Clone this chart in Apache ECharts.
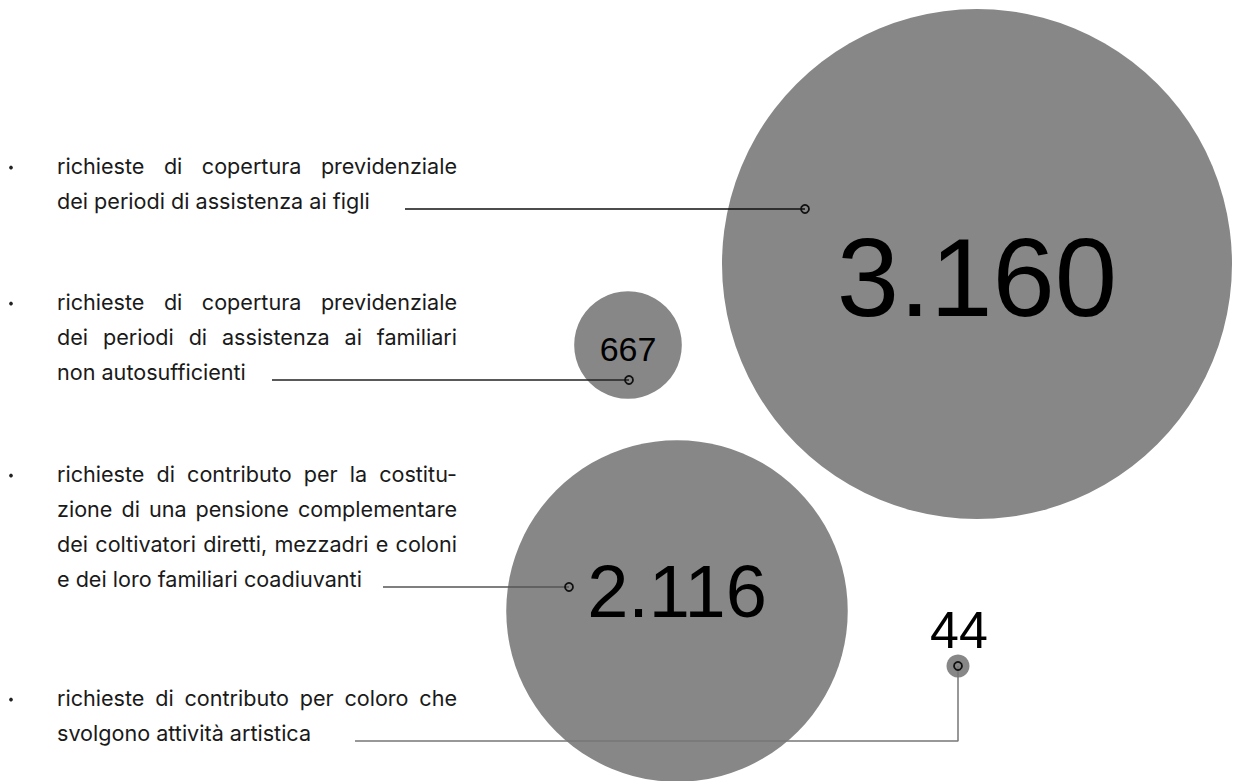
<!DOCTYPE html>
<html><head><meta charset="utf-8">
<script src="https://cdn.jsdelivr.net/npm/echarts@6/dist/echarts.min.js"></script>
<style>html,body{margin:0;padding:0;background:#fff}#c{width:1233px;height:781px}</style>
</head><body><div id="c"></div>
<script>
// ---- data ----
const categories = [
  'richieste di copertura previdenziale dei periodi di assistenza ai figli',
  'richieste di copertura previdenziale dei periodi di assistenza ai familiari non autosufficienti',
  'richieste di contributo per la costituzione di una pensione complementare dei coltivatori diretti, mezzadri e coloni e dei loro familiari coadiuvanti',
  'richieste di contributo per coloro che svolgono attività artistica'
];
const categoryLines = [
  ['richieste di copertura previdenziale', 'dei periodi di assistenza ai figli'],
  ['richieste di copertura previdenziale', 'dei periodi di assistenza ai familiari', 'non autosufficienti'],
  ['richieste di contributo per la costitu-', 'zione di una pensione complementare', 'dei coltivatori diretti, mezzadri e coloni', 'e dei loro familiari coadiuvanti'],
  ['richieste di contributo per coloro che', 'svolgono attività artistica']
];
const values = [3160, 667, 2116, 44];
const valueLabels = ['3.160', '667', '2.116', '44'];

// ---- layout (positions / sizes / styles) ----
const bubbleCenters = [[977, 264], [628, 345], [677, 611], [958, 666]];
const labelOffsets = [[0, 13], [0, 4], [0, -20], [1, -36]];
const labelFontSizes = [112, 34, 74, 52];
const anchorPoints = [[805, 209], [629, 380], [569, 587], [958, 666]];
const leaderPaths = [
  [[405, 209], [805, 209]],
  [[272, 380], [629, 380]],
  [[383, 587], [569, 587]],
  [[355, 741], [958, 741], [958, 666]]
];
const leaderColors = ['#111', '#222', '#555', '#777'];
const textBaselines = [[174, 209], [310, 345, 380], [482, 517, 552, 587], [706, 741]];
const TEXT_LEFT = 57, TEXT_RIGHT = 457, BULLET_X = 9;
const PX_PER_UNIT = 510 / 3160, MIN_D = 23;
const BUBBLE_COLOR = '#878787';
const FONT_FAMILY = 'Inter';

// measure helper using a temporary SVG text element
const NS = 'http://www.w3.org/2000/svg';
const msvg = document.createElementNS(NS, 'svg');
msvg.setAttribute('width', '10'); msvg.setAttribute('height', '10');
msvg.style.position = 'absolute'; msvg.style.left = '0'; msvg.style.top = '0'; msvg.style.visibility = 'hidden';
const mt = document.createElementNS(NS, 'text');
mt.setAttribute('x', '0'); mt.setAttribute('y', '5');
msvg.appendChild(mt);
document.body.appendChild(msvg);
function measure(t, fs) {
  mt.setAttribute('font-family', FONT_FAMILY);
  mt.setAttribute('font-size', fs);
  mt.textContent = t;
  return mt.getComputedTextLength();
}
let FS = 18 * 336 / measure('dei periodi di assistenza ai figli', 18);
categoryLines.forEach(lines => lines.forEach(line => {
  const m = measure(line, 18);
  if (m > 0) FS = Math.min(FS, 0.985 * 18 * (TEXT_RIGHT - TEXT_LEFT) / m);
}));
if (!isFinite(FS)) FS = 21;
FS = Math.max(15, Math.min(26, FS));

const graphics = [];
categoryLines.forEach((lines, bi) => {
  const bls = textBaselines[bi];
  graphics.push({
    type: 'circle', z: 100, shape: { cx: BULLET_X + 2, cy: bls[0] - 0.3 * FS, r: 1.9 },
    style: { fill: '#222' }
  });
  lines.forEach((line, li) => {
    const y = bls[li] - 0.35 * FS;
    const last = li === lines.length - 1;
    if (last) {
      graphics.push({ type: 'text', x: TEXT_LEFT, y: y, z: 100,
        style: { text: line, font: FS.toFixed(2) + 'px ' + FONT_FAMILY, fill: '#1a1a1a', textVerticalAlign: 'middle', textAlign: 'left' } });
    } else {
      const words = line.split(' ');
      const widths = words.map(w => measure(w, FS));
      const total = widths.reduce((a, b) => a + b, 0);
      const gap = words.length > 1 ? (TEXT_RIGHT - TEXT_LEFT - total) / (words.length - 1) : 0;
      let x = TEXT_LEFT;
      words.forEach((w, wi) => {
        const isLastWord = wi === words.length - 1 && words.length > 1;
        graphics.push({ type: 'text', x: isLastWord ? TEXT_RIGHT : x, y: y, z: 100,
          style: { text: w, font: FS.toFixed(2) + 'px ' + FONT_FAMILY, fill: '#1a1a1a', textVerticalAlign: 'middle', textAlign: isLastWord ? 'right' : 'left' } });
        x += widths[wi] + gap;
      });
    }
  });
});
mt.textContent = '';
document.body.removeChild(msvg);

const bubbleData = values.map((v, i) => ({
  name: categories[i],
  value: [bubbleCenters[i][0], bubbleCenters[i][1], v],
  label: { fontSize: labelFontSizes[i], offset: labelOffsets[i] }
}));

const leaderSeries = leaderPaths.map((p, i) => ({
  type: 'line', data: p, symbol: 'none', z: 3, silent: true,
  lineStyle: { color: leaderColors[i], width: i >= 2 ? 1.5 : 1.3 }
}));

const chart = echarts.init(document.getElementById('c'), null, { renderer: 'svg' });
chart.setOption({
  animation: false,
  grid: { left: 0, right: 0, top: 0, bottom: 0 },
  xAxis: { type: 'value', min: 0, max: 1233, show: false },
  yAxis: { type: 'value', min: 0, max: 781, inverse: true, show: false },
  graphic: graphics,
  series: [
    {
      type: 'scatter', z: 2, silent: true,
      data: bubbleData,
      symbolSize: val => Math.max(MIN_D, val[2] * PX_PER_UNIT),
      itemStyle: { color: BUBBLE_COLOR, opacity: 1 },
      label: {
        show: true, position: 'inside', color: '#000',
        fontFamily: 'Liberation Sans', fontWeight: 'normal',
        formatter: p => valueLabels[p.dataIndex]
      }
    },
    ...leaderSeries,
    {
      type: 'scatter', z: 4, silent: true,
      data: anchorPoints,
      symbol: 'circle', symbolSize: 8,
      itemStyle: { color: 'rgba(0,0,0,0)', borderColor: '#111', borderWidth: 1.8, opacity: 1 }
    }
  ]
});
</script>
</body></html>
